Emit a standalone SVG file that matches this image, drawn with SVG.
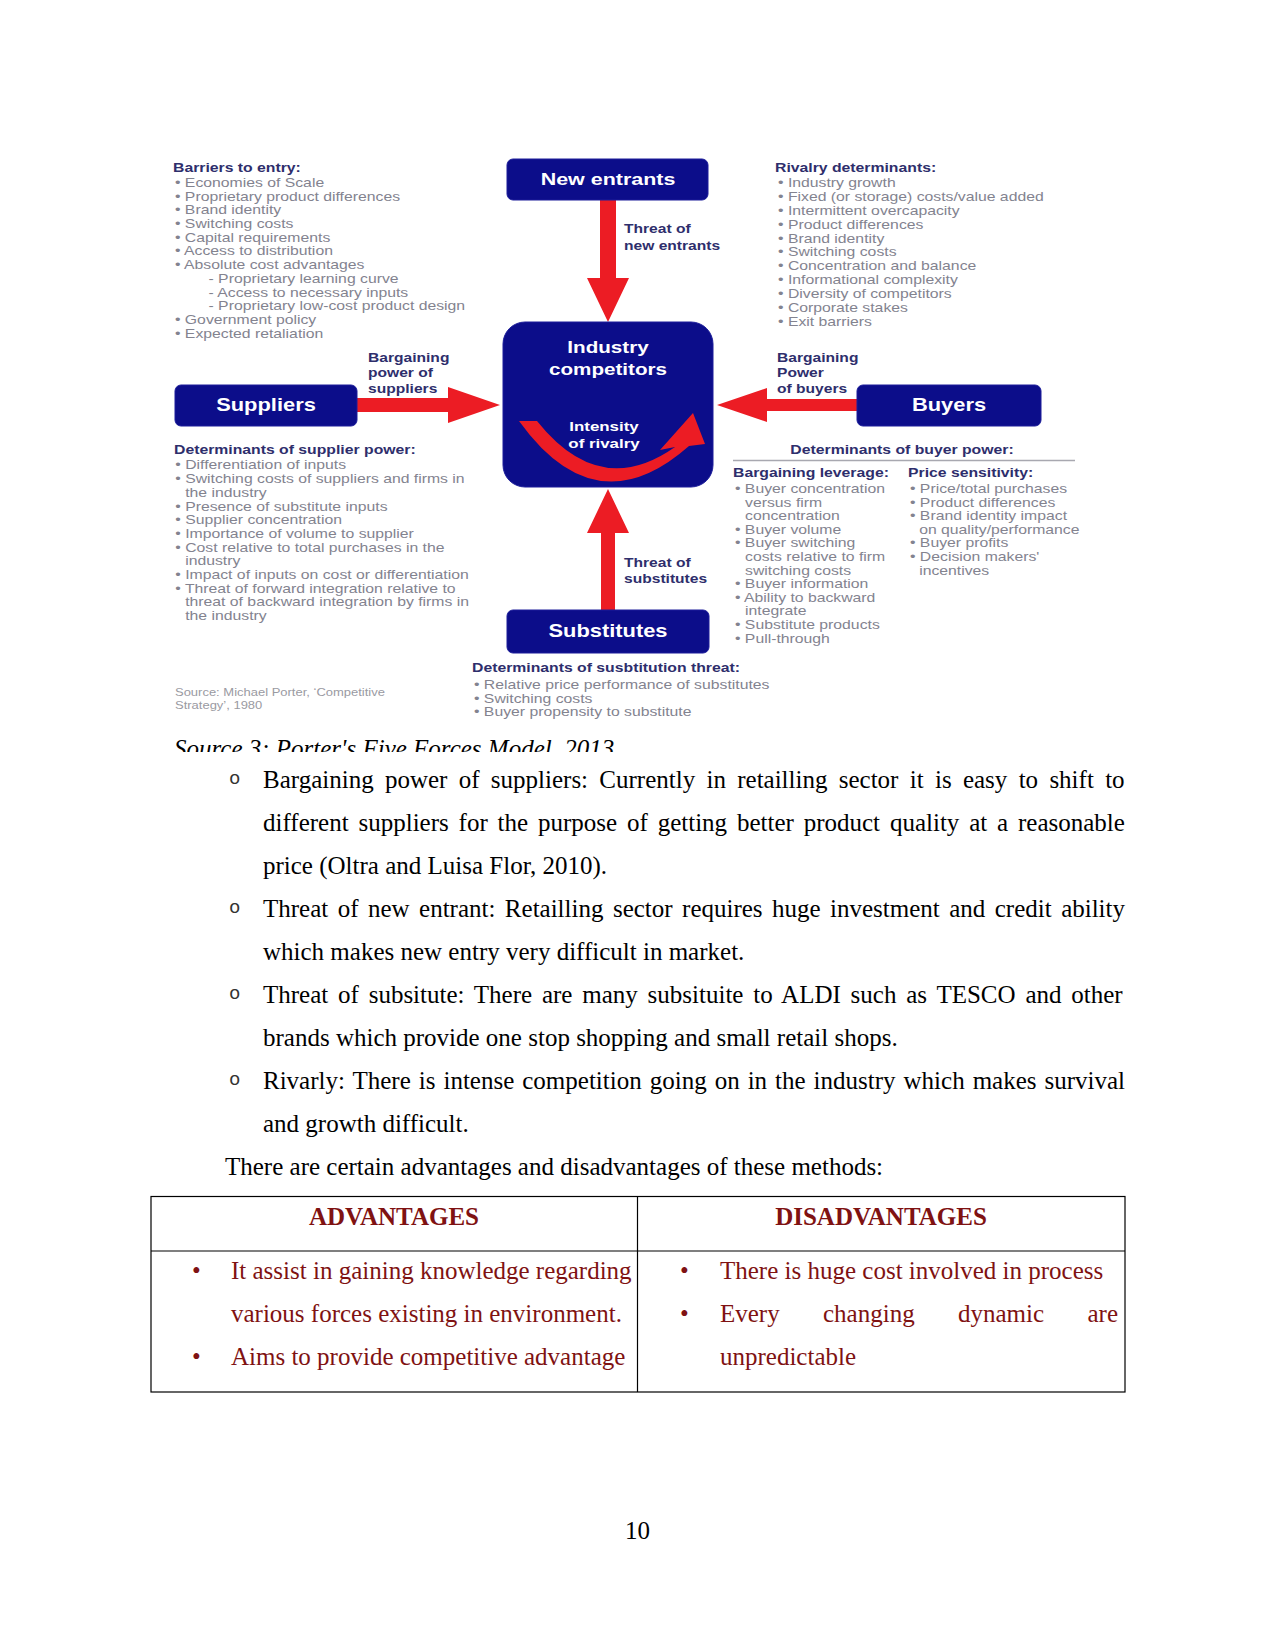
<svg xmlns="http://www.w3.org/2000/svg" width="1275" height="1650" viewBox="0 0 1275 1650">
<defs>
<style>
.h{font-family:"Liberation Sans",Arial,sans-serif;font-weight:bold;font-size:12px;fill:#2e2e6c}
.i{font-family:"Liberation Sans",Arial,sans-serif;font-size:12px;fill:#83838f}
.src{font-family:"Liberation Sans",Arial,sans-serif;font-size:10px;fill:#9a9aa2}
.bt{font-family:"Liberation Sans",Arial,sans-serif;font-weight:bold;fill:#ffffff;text-anchor:middle}
.box{fill:#0c0d8a;stroke:#1c1d9a;stroke-width:1}
.arr{fill:#ec1c24}
.body{font-family:"Liberation Serif","Times New Roman",serif;font-size:25px;fill:#000}
.bul{font-family:"Liberation Mono","Courier New",monospace;font-size:19px;fill:#333}
.tb{font-family:"Liberation Serif","Times New Roman",serif;font-size:25px;fill:#7f1212}
.tbh{font-family:"Liberation Serif","Times New Roman",serif;font-size:25px;font-weight:bold;fill:#7f1212;text-anchor:middle}
.grid{stroke:#000;stroke-width:1.2;fill:none}
</style>
<clipPath id="capclip"><rect x="0" y="700" width="1275" height="52"/></clipPath>
</defs>
<rect width="1275" height="1650" fill="#ffffff"/>

<!-- connectors -->
<g id="connectors">
<polygon class="arr" points="600,200 616,200 616,278 629,278 608,322 587,278 600,278"/>
<polygon class="arr" points="608,489 629,533 615,533 615,610 601,610 601,533 587,533"/>
<polygon class="arr" points="357,398 448,398 448,387 500,405 448,423 448,412 357,412"/>
<polygon class="arr" points="857,399 767,399 767,388 717,405 767,422 767,411 857,411"/>
</g>

<g id="new-entrants">
<rect class="box" x="507" y="159" width="201" height="41" rx="6"/>
<g transform="translate(608 0) scale(1.3 1)"><text class="bt" x="0" y="185" font-size="16.5">New entrants</text></g>
</g>

<g id="industry-competitors">
<rect class="box" x="503" y="322" width="210" height="165" rx="22"/>
<g transform="translate(608 0) scale(1.25 1)">
<text class="bt" x="0" y="353" font-size="16.5">Industry</text>
<text class="bt" x="0" y="375" font-size="16.5">competitors</text>
</g>
<path class="arr" d="M 519 421 Q 596 528 689 446 L 705 444 L 693 413 L 660 450 L 675 447 Q 600 500 537 421 Z"/>
<g transform="translate(604 0) scale(1.3 1)">
<text class="bt" x="0" y="431" font-size="13" fill="#e8e8ff">Intensity</text>
<text class="bt" x="0" y="448" font-size="13">of rivalry</text>
</g>
</g>

<g id="suppliers">
<rect class="box" x="175" y="385" width="182" height="41" rx="6"/>
<g transform="translate(266 0) scale(1.25 1)"><text class="bt" x="0" y="411" font-size="17.5">Suppliers</text></g>
</g>

<g id="buyers">
<rect class="box" x="857" y="385" width="184" height="41" rx="6"/>
<g transform="translate(949 0) scale(1.25 1)"><text class="bt" x="0" y="411" font-size="17.5">Buyers</text></g>
</g>

<g id="substitutes">
<rect class="box" x="507" y="610" width="202" height="43" rx="6"/>
<g transform="translate(608 0) scale(1.25 1)"><text class="bt" x="0" y="637" font-size="17.5">Substitutes</text></g>
</g>

<!-- arrow labels -->
<g id="labels">
<g transform="translate(624 0) scale(1.3 1)">
<text class="h" x="0" y="233">Threat of</text>
<text class="h" x="0" y="250">new entrants</text>
<text class="h" x="0" y="567">Threat of</text>
<text class="h" x="0" y="583">substitutes</text>
</g>
<g transform="translate(368 0) scale(1.3 1)">
<text class="h" x="0" y="362">Bargaining</text>
<text class="h" x="0" y="377">power of</text>
<text class="h" x="0" y="393">suppliers</text>
</g>
<g transform="translate(777 0) scale(1.3 1)">
<text class="h" x="0" y="362">Bargaining</text>
<text class="h" x="0" y="377">Power</text>
<text class="h" x="0" y="393">of buyers</text>
</g>
</g>

<g id="barriers-to-entry" transform="translate(173 1.5) scale(1.315 1)">
<text class="h" x="0" y="171">Barriers to entry:</text>
<text class="i" x="1.5" y="185.5">• Economies of Scale</text>
<text class="i" x="1.5" y="199.2">• Proprietary product differences</text>
<text class="i" x="1.5" y="212.9">• Brand identity</text>
<text class="i" x="1.5" y="226.6">• Switching costs</text>
<text class="i" x="1.5" y="240.3">• Capital requirements</text>
<text class="i" x="1.5" y="254">• Access to distribution</text>
<text class="i" x="1.5" y="267.7">• Absolute cost advantages</text>
<text class="i" x="27" y="281.4">- Proprietary learning curve</text>
<text class="i" x="27" y="295.1">- Access to necessary inputs</text>
<text class="i" x="27" y="308.8">- Proprietary low-cost product design</text>
<text class="i" x="1.5" y="322.5">• Government policy</text>
<text class="i" x="1.5" y="336.2">• Expected retaliation</text>
</g>

<g id="rivalry-determinants" transform="translate(775 1.5) scale(1.315 1)">
<text class="h" x="0" y="171">Rivalry determinants:</text>
<text class="i" x="2.3" y="185.5">• Industry growth</text>
<text class="i" x="2.3" y="199.4">• Fixed (or storage) costs/value added</text>
<text class="i" x="2.3" y="213.3">• Intermittent overcapacity</text>
<text class="i" x="2.3" y="227.2">• Product differences</text>
<text class="i" x="2.3" y="241.1">• Brand identity</text>
<text class="i" x="2.3" y="255">• Switching costs</text>
<text class="i" x="2.3" y="268.9">• Concentration and balance</text>
<text class="i" x="2.3" y="282.8">• Informational complexity</text>
<text class="i" x="2.3" y="296.7">• Diversity of competitors</text>
<text class="i" x="2.3" y="310.6">• Corporate stakes</text>
<text class="i" x="2.3" y="324.5">• Exit barriers</text>
</g>

<g id="supplier-power" transform="translate(174 3) scale(1.315 1)">
<text class="h" x="0" y="451">Determinants of supplier power:</text>
<text class="i" x="1" y="466.5">• Differentiation of inputs</text>
<text class="i" x="1" y="480.2">• Switching costs of suppliers and firms in</text>
<text class="i" x="8.5" y="493.9">the industry</text>
<text class="i" x="1" y="507.6">• Presence of substitute inputs</text>
<text class="i" x="1" y="521.3">• Supplier concentration</text>
<text class="i" x="1" y="535">• Importance of volume to supplier</text>
<text class="i" x="1" y="548.7">• Cost relative to total purchases in the</text>
<text class="i" x="8.5" y="562.4">industry</text>
<text class="i" x="1" y="576.1">• Impact of inputs on cost or differentiation</text>
<text class="i" x="1" y="589.8">• Threat of forward integration relative to</text>
<text class="i" x="8.5" y="603.5">threat of backward integration by firms in</text>
<text class="i" x="8.5" y="617.2">the industry</text>
</g>

<g id="buyer-power">
<g transform="translate(902 0) scale(1.315 1)"><text class="h" x="0" y="454" text-anchor="middle">Determinants of buyer power:</text></g>
<line x1="733" y1="460.5" x2="1075" y2="460.5" stroke="#a8a8b0" stroke-width="1.5"/>
<g transform="translate(733 1.5) scale(1.315 1)">
<text class="h" x="0" y="476">Bargaining leverage:</text>
<text class="i" x="1.5" y="491.5">• Buyer concentration</text>
<text class="i" x="9.2" y="505.1">versus firm</text>
<text class="i" x="9.2" y="518.7">concentration</text>
<text class="i" x="1.5" y="532.3">• Buyer volume</text>
<text class="i" x="1.5" y="545.9">• Buyer switching</text>
<text class="i" x="9.2" y="559.5">costs relative to firm</text>
<text class="i" x="9.2" y="573.1">switching costs</text>
<text class="i" x="1.5" y="586.7">• Buyer information</text>
<text class="i" x="1.5" y="600.3">• Ability to backward</text>
<text class="i" x="9.2" y="613.9">integrate</text>
<text class="i" x="1.5" y="627.5">• Substitute products</text>
<text class="i" x="1.5" y="641.1">• Pull-through</text>
</g>
<g transform="translate(908 1.5) scale(1.315 1)">
<text class="h" x="0" y="476">Price sensitivity:</text>
<text class="i" x="1.5" y="491.5">• Price/total purchases</text>
<text class="i" x="1.5" y="505.1">• Product differences</text>
<text class="i" x="1.5" y="518.7">• Brand identity impact</text>
<text class="i" x="8.5" y="532.3">on quality/performance</text>
<text class="i" x="1.5" y="545.9">• Buyer profits</text>
<text class="i" x="1.5" y="559.5">• Decision makers'</text>
<text class="i" x="8.5" y="573.1">incentives</text>
</g>
</g>

<g id="substitution-threat" transform="translate(472 1.5) scale(1.315 1)">
<text class="h" x="0" y="671">Determinants of susbtitution threat:</text>
<text class="i" x="1.5" y="687.5">• Relative price performance of substitutes</text>
<text class="i" x="1.5" y="701.2">• Switching costs</text>
<text class="i" x="1.5" y="714.9">• Buyer propensity to substitute</text>
</g>

<g id="source-note" transform="translate(175 1.5) scale(1.3 1)">
<text class="src" x="0" y="695">Source: Michael Porter, ‘Competitive</text>
<text class="src" x="0" y="708">Strategy’, 1980</text>
</g>

<!-- caption (clipped as in the page) -->
<g clip-path="url(#capclip)">
<text class="body" x="174" y="757" font-style="italic">Source 3: Porter's Five Forces Model, 2013</text>
</g>

<!-- body text -->
<g id="body-text">
<text class="bul" x="229" y="784">o</text>
<text class="body" x="263" y="788" style="word-spacing:5.05px">Bargaining power of suppliers: Currently in retailling sector it is easy to shift to</text>
<text class="body" x="263" y="831" style="word-spacing:3.6px">different suppliers for the purpose of getting better product quality at a reasonable</text>
<text class="body" x="263" y="874">price (Oltra and Luisa Flor, 2010).</text>
<text class="bul" x="229" y="913">o</text>
<text class="body" x="263" y="917" style="word-spacing:3.2px">Threat of new entrant: Retailling sector requires huge investment and credit ability</text>
<text class="body" x="263" y="960">which makes new entry very difficult in market.</text>
<text class="bul" x="229" y="999">o</text>
<text class="body" x="263" y="1003" style="word-spacing:3.55px">Threat of subsitute: There are many subsituite to ALDI such as TESCO and other</text>
<text class="body" x="263" y="1046">brands which provide one stop shopping and small retail shops.</text>
<text class="bul" x="229" y="1085">o</text>
<text class="body" x="263" y="1089" style="word-spacing:1.75px">Rivarly: There is intense competition going on in the industry which makes survival</text>
<text class="body" x="263" y="1132">and growth difficult.</text>
<text class="body" x="225" y="1175">There are certain advantages and disadvantages of these methods:</text>
</g>

<!-- table -->
<g id="table">
<rect class="grid" x="151" y="1196.5" width="974" height="195.5"/>
<line class="grid" x1="151" y1="1251" x2="1125" y2="1251"/>
<line class="grid" x1="637.5" y1="1196.5" x2="637.5" y2="1392"/>
<text class="tbh" x="394" y="1225">ADVANTAGES</text>
<text class="tbh" x="881" y="1225">DISADVANTAGES</text>
<text class="tb" x="192" y="1279">•</text>
<text class="tb" x="231" y="1279">It assist in gaining knowledge regarding</text>
<text class="tb" x="231" y="1322">various forces existing in environment.</text>
<text class="tb" x="192" y="1365">•</text>
<text class="tb" x="231" y="1365">Aims to provide competitive advantage</text>
<text class="tb" x="680" y="1279">•</text>
<text class="tb" x="720" y="1279">There is huge cost involved in process</text>
<text class="tb" x="680" y="1322">•</text>
<text class="tb" x="720" y="1322">Every</text>
<text class="tb" x="823" y="1322">changing</text>
<text class="tb" x="958" y="1322">dynamic</text>
<text class="tb" x="1118" y="1322" text-anchor="end">are</text>
<text class="tb" x="720" y="1365">unpredictable</text>
</g>

<text class="body" x="637.5" y="1539" text-anchor="middle">10</text>
</svg>
